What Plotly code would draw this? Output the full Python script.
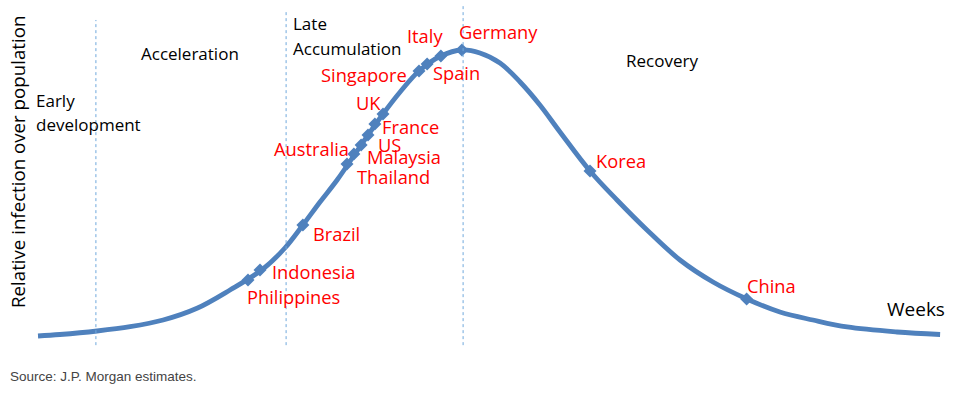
import plotly.graph_objects as go

# ---- data (weeks vs relative infection, peak = 100) ----
curve_weeks = [0.0, 0.73, 1.97, 3.07, 4.17, 5.3, 6.4, 7.5, 8.23, 8.83, 9.4, 9.97,
               10.77, 11.5, 12.07, 12.7, 13.43, 14.13, 14.73, 15.4, 16.07, 16.73,
               17.4, 18.4, 19.3, 20.3, 21.4, 22.5, 23.63, 24.73, 25.83, 26.97,
               28.63, 30.07]
curve_level = [0.0, 0.52, 1.75, 3.25, 5.59, 9.69, 16.08, 23.43, 30.77, 38.81, 46.85,
               54.55, 66.78, 77.62, 85.31, 92.66, 97.9, 100.0, 98.95, 95.45, 88.81,
               80.77, 71.33, 57.69, 47.55, 37.06, 26.57, 18.88, 12.94, 8.39, 5.59,
               3.15, 1.4, 0.52]

countries = ["Philippines", "Indonesia", "Brazil", "Thailand", "Malaysia", "Australia",
             "US", "France", "UK", "Singapore", "Italy", "Spain", "Germany", "Korea", "China"]
country_weeks = [7.0, 7.4, 8.83, 10.3, 10.53, 10.77, 11.0, 11.23, 11.5, 12.7, 12.97,
                 13.43, 14.13, 18.4, 23.62]
country_level = [19.58, 23.08, 38.81, 60.14, 63.64, 66.78, 70.28, 74.13, 77.62, 92.66,
                 95.1, 97.9, 100, 57.69, 12.94]

phase_bounds = [1.93, 8.27, 14.17]
phase_tops = [110.5, 113.3, 115.7]

# ---- styling / label offsets (pixels) ----
label_shift = {
    "Philippines": (45, -16), "Indonesia": (53, -2), "Brazil": (34, -8),
    "Thailand": (46, -12), "Malaysia": (50, -3), "Australia": (-50, -3),
    "US": (21, -9), "France": (36, -3), "UK": (-15, 12), "Singapore": (-55, -4),
    "Italy": (-2, 29), "Spain": (16, -16), "Germany": (37, 19),
    "Korea": (31, 11), "China": (25, 13),
}
BLUE = "#4F81BD"
FONT = "Open Sans"

fig = go.Figure()
fig.add_trace(go.Scatter(x=curve_weeks, y=curve_level, mode="lines",
                         line=dict(color=BLUE, width=4.8, shape="spline", smoothing=1.0),
                         hoverinfo="skip", showlegend=False))
fig.add_trace(go.Scatter(x=country_weeks, y=country_level, mode="markers",
                         marker=dict(symbol="diamond", size=10, color=BLUE),
                         text=countries, hoverinfo="text", showlegend=False))

for xb, yt in zip(phase_bounds, phase_tops):
    fig.add_shape(type="line", x0=xb, x1=xb, y0=-3.2, y1=yt, xref="x", yref="y",
                  line=dict(color="#6FA8DC", width=1, dash="3px,3px"))

for name, cx, cy in zip(countries, country_weeks, country_level):
    dx, dy = label_shift[name]
    fig.add_annotation(x=cx, y=cy, xref="x", yref="y", text=name, showarrow=False,
                       xshift=dx, yshift=dy, xanchor="center", yanchor="middle",
                       font=dict(family=FONT, size=18.3, color="#FF0000"))

W, H = 955, 394
def px(xp, yp):
    return xp / W, 1 - yp / H

phase_labels = [
    ("Early", 34, 100, "left", 17),
    ("development", 34, 124, "left", 17),
    ("Acceleration", 190, 53, "center", 17),
    ("Late", 291, 24, "left", 17),
    ("Accumulation", 291, 49, "left", 17),
    ("Recovery", 662, 60, "center", 17),
    ("Weeks", 916, 309, "center", 19),
]
for txt, xp, yp, anc, sz in phase_labels:
    ax, ay = px(xp, yp)
    fig.add_annotation(x=ax, y=ay, xref="paper", yref="paper", text=txt, showarrow=False,
                       xanchor=anc, yanchor="middle",
                       font=dict(family=FONT, size=sz, color="#000000"))

ax, ay = px(8, 376)
fig.add_annotation(x=ax, y=ay, xref="paper", yref="paper", text="Source: J.P. Morgan estimates.",
                   showarrow=False, xanchor="left", yanchor="middle",
                   font=dict(family="Liberation Sans", size=13.5, color="#444444"))
ax, ay = px(17, 162)
fig.add_annotation(x=ax, y=ay, xref="paper", yref="paper", text="Relative infection over population",
                   showarrow=False, textangle=-90, xanchor="center", yanchor="middle",
                   font=dict(family=FONT, size=18.7, color="#000000"))

fig.update_layout(
    width=W, height=H, margin=dict(l=0, r=0, t=0, b=0),
    paper_bgcolor="white", plot_bgcolor="white",
    xaxis=dict(range=[-38 / 30, (W - 38) / 30], visible=False, fixedrange=True),
    yaxis=dict(range=[(336 - H) / 2.86, 336 / 2.86], visible=False, fixedrange=True),
)
fig.write_html("out.html", config={"displayModeBar": False},
               post_script="document.body.style.margin='0';document.body.style.overflow='hidden';")
